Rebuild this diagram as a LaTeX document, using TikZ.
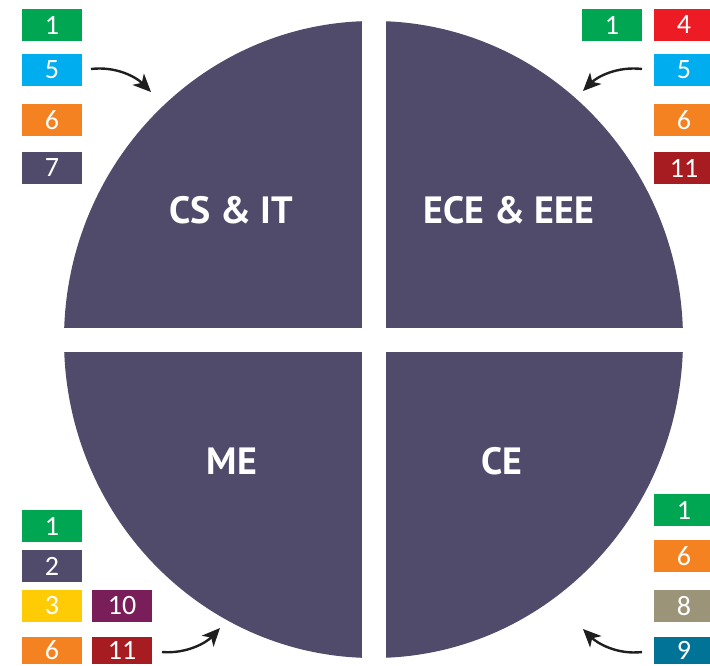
\documentclass[tikz,border=0pt]{standalone}
\usepackage{fontspec}
\usetikzlibrary{arrows.meta}
\newfontfamily\labfont{PT Sans}
\newfontfamily\numfont{Carlito}
\definecolor{circ}{RGB}{80,75,107}
\definecolor{cgreen}{RGB}{0,166,81}
\definecolor{cblue}{RGB}{0,174,239}
\definecolor{corange}{RGB}{245,130,32}
\definecolor{cred}{RGB}{237,28,36}
\definecolor{cdred}{RGB}{167,28,32}
\definecolor{cyellow}{RGB}{255,203,5}
\definecolor{cmag}{RGB}{122,30,90}
\definecolor{ckhaki}{RGB}{156,148,121}
\definecolor{cteal}{RGB}{0,115,150}
\tikzset{
  numbox/.style={fill=#1, minimum width=60pt, minimum height=32pt, inner sep=0pt,
    text=white, font=\numfont\fontsize{28}{28}\selectfont},
  edgebox/.style={numbox=#1, minimum height=27pt},
  quadlabel/.style={text=white, font=\labfont\bfseries\fontsize{38}{38}\selectfont, inner sep=0pt},
  pointer/.style={line width=2.4pt, black!88, -{Stealth[length=18pt,width=16pt,inset=5pt]}}
}
\begin{document}
\begin{tikzpicture}[x=1pt,y=-1pt]
\useasboundingbox (0,0) rectangle (710,665);
\begin{scope}
  \clip (373.5,339.5) ellipse [x radius=309.5, y radius=318.5];
  \fill[circ] (0,0) rectangle (362,327.5);
  \fill[circ] (385.5,0) rectangle (710,327.5);
  \fill[circ] (0,352) rectangle (362,665);
  \fill[circ] (385.5,352) rectangle (710,665);
\end{scope}
\node[quadlabel] (csit) at (231,210) {CS \& IT};
\node[quadlabel] (ece) at (509,210) {ECE \& EEE};
\node[quadlabel] (me) at (232,461) {ME};
\node[quadlabel] (ce) at (502,461) {CE};
% top-left boxes
\node[numbox=cgreen] (tl1) at (52,25) {1};
\node[numbox=cblue] (tl5) at (52,70) {5};
\node[numbox=corange] (tl6) at (52,120) {6};
\node[numbox=circ] (tl7) at (52,168) {7};
% top-right boxes
\node[numbox=cgreen] (tr1) at (612,25) {1};
\node[numbox=cred] (tr4) at (684,25) {4};
\node[numbox=cblue] (tr5) at (684,70) {5};
\node[numbox=corange] (tr6) at (684,120) {6};
\node[numbox=cdred] (tr11) at (684,168) {11};
% bottom-left boxes
\node[numbox=cgreen] (bl1) at (52,526) {1};
\node[numbox=circ] (bl2) at (52,566) {2};
\node[numbox=cyellow] (bl3) at (52,606) {3};
\node[numbox=cmag] (bl10) at (122,606) {10};
\node[edgebox=corange] (bl6) at (52,650) {6};
\node[edgebox=cdred] (bl11) at (122,650) {11};
% bottom-right boxes
\node[numbox=cgreen] (br1) at (684,510) {1};
\node[numbox=corange] (br6) at (684,556) {6};
\node[numbox=ckhaki] (br8) at (684,606) {8};
\node[edgebox=cteal] (br9) at (684,650) {9};
% arrows
\coordinate (tlA) at (91,69);
\coordinate (tlB) at (151,92);
\coordinate (trA) at (642,69);
\coordinate (trB) at (583,91);
\coordinate (blA) at (162,652);
\coordinate (blB) at (220,628);
\coordinate (brA) at (642,652);
\coordinate (brB) at (583,629);
\draw[pointer] (tlA) .. controls (116,66) and (136,77) .. (tlB);
\draw[pointer] (trA) .. controls (617,66) and (597,77) .. (trB);
\draw[pointer] (blA) .. controls (186,654) and (206,643) .. (blB);
\draw[pointer] (brA) .. controls (617,655) and (597,643) .. (brB);
\end{tikzpicture}
\end{document}
